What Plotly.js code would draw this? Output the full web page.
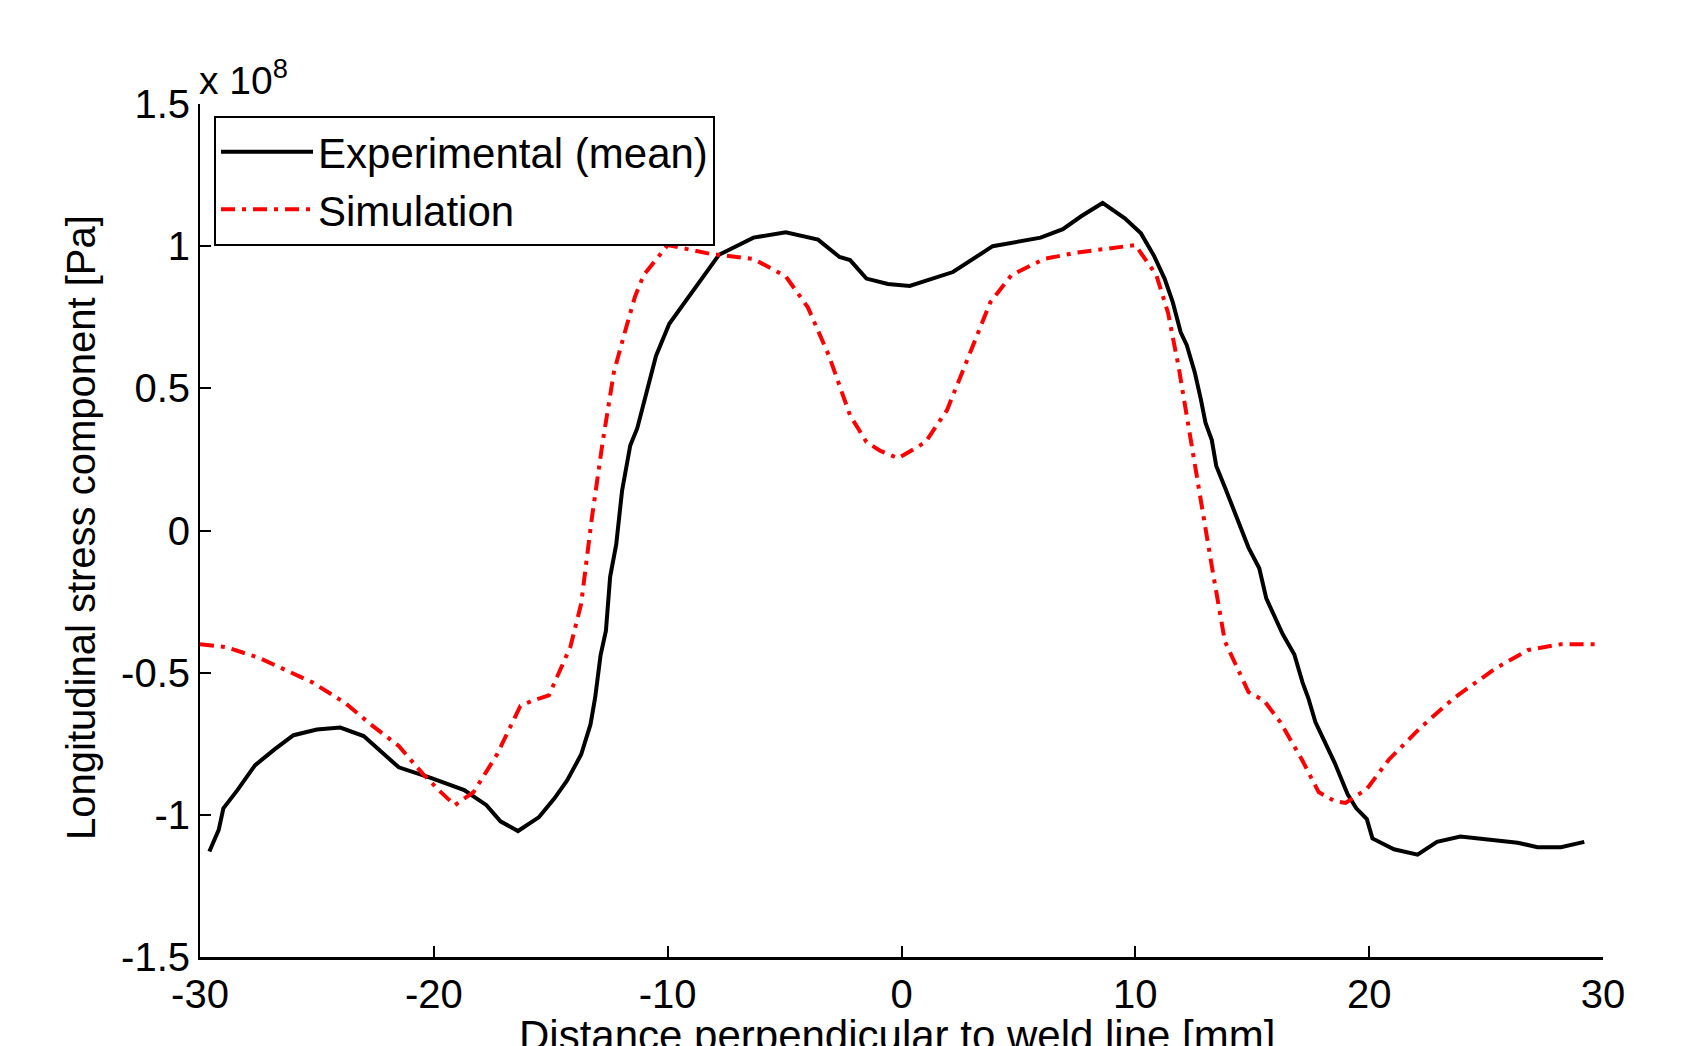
<!DOCTYPE html>
<html>
<head>
<meta charset="utf-8">
<script src="https://cdn.plot.ly/plotly-3.0.1.min.js"></script>
<style>html,body{margin:0;padding:0;background:#fff;}#chart{width:1688px;height:1046px;}</style>
</head>
<body>
<div id="chart"></div>
<script>
// Distance perpendicular to weld line [mm]
const expX = [-29.6,-29.2,-29.0,-28.4,-27.65,-26.8,-26.0,-25.0,-24.0,-23.0,-21.5,-20.1,-18.7,-17.75,-17.15,-16.4,-15.5,-14.85,-14.3,-13.7,-13.3,-13.1,-12.87,-12.64,-12.46,-12.2,-11.95,-11.6,-11.3,-10.85,-10.5,-9.93,-9.1,-7.8,-6.33,-4.95,-3.57,-2.65,-2.2,-1.5,-0.58,0.35,2.2,3.9,5.95,6.9,7.7,8.6,9.55,10.24,10.8,11.25,11.6,11.94,12.2,12.54,12.8,13.0,13.27,13.46,13.83,14.38,14.84,15.3,15.6,16.3,16.8,17.15,17.4,17.7,18.07,18.53,19.08,19.45,19.9,20.14,21.06,22.07,22.9,23.9,26.35,27.2,28.2,29.2];
// Longitudinal stress, experimental mean [x 1e8 Pa]
const expY = [-1.129,-1.053,-0.977,-0.913,-0.826,-0.769,-0.72,-0.70,-0.693,-0.723,-0.833,-0.871,-0.913,-0.966,-1.023,-1.057,-1.008,-0.943,-0.879,-0.788,-0.682,-0.587,-0.439,-0.352,-0.163,-0.049,0.14,0.299,0.36,0.508,0.614,0.727,0.822,0.97,1.03,1.049,1.023,0.962,0.951,0.886,0.867,0.86,0.909,1.0,1.03,1.06,1.106,1.152,1.098,1.045,0.966,0.886,0.803,0.697,0.652,0.557,0.462,0.379,0.318,0.227,0.152,0.034,-0.06,-0.133,-0.239,-0.364,-0.436,-0.534,-0.59,-0.674,-0.742,-0.818,-0.928,-0.977,-1.015,-1.083,-1.121,-1.14,-1.095,-1.076,-1.098,-1.114,-1.114,-1.095];
// Simulation
const simX = [-30,-28.9,-27.5,-25.2,-23.8,-22.7,-21.5,-20.47,-19.7,-19.1,-18.3,-17.3,-16.3,-15.77,-15.08,-14.16,-13.7,-13.24,-12.78,-12.3,-11.86,-11.4,-11.03,-10.0,-8.18,-6.33,-4.95,-4.0,-3.1,-2.2,-1.5,-0.9,-0.14,1.03,1.95,2.87,3.8,4.7,6.1,7.47,8.86,10.0,10.9,11.4,11.85,12.3,12.77,13.23,13.83,14.38,14.84,15.5,16.2,17.15,17.84,18.5,18.99,19.9,20.83,22.2,23.6,25.4,26.8,28.2,29.8];
const simY = [-0.40,-0.41,-0.447,-0.534,-0.606,-0.682,-0.758,-0.856,-0.92,-0.966,-0.92,-0.788,-0.617,-0.598,-0.58,-0.409,-0.258,0.045,0.311,0.557,0.689,0.822,0.898,1.004,0.973,0.955,0.894,0.784,0.614,0.405,0.311,0.28,0.254,0.311,0.424,0.614,0.803,0.898,0.955,0.977,0.992,1.004,0.898,0.765,0.576,0.348,0.121,-0.106,-0.39,-0.485,-0.568,-0.598,-0.674,-0.81,-0.92,-0.951,-0.958,-0.909,-0.807,-0.693,-0.591,-0.485,-0.420,-0.40,-0.40];

const xTicks = [-30,-20,-10,0,10,20,30];
const xTickText = ['-30','-20','-10','0','10','20','30'];
const yTicks = [-1.5,-1,-0.5,0,0.5,1,1.5];
const yTickText = ['-1.5','-1','-0.5','0','0.5','1','1.5'];

const xTitle = 'Distance perpendicular to weld line [mm]';
const yTitle = 'Longitudinal stress component [Pa]';

const FONT = '"Liberation Sans", Arial, sans-serif';

const traces = [
  {x: expX, y: expY, mode: 'lines', name: 'Experimental (mean)',
   line: {color: '#000000', width: 4}},
  {x: simX, y: simY, mode: 'lines', name: 'Simulation',
   line: {color: '#ff0000', width: 4, dash: '14px,7px,4px,7px'}}
];

const layout = {
  width: 1688, height: 1046,
  paper_bgcolor: '#ffffff', plot_bgcolor: '#ffffff',
  margin: {l: 200, r: 85, t: 104, b: 89},
  font: {family: FONT, color: '#000000', size: 40},
  showlegend: true,
  legend: {x: 0.01, y: 0.986, xanchor: 'left', yanchor: 'top',
           bgcolor: '#ffffff', bordercolor: '#000000', borderwidth: 2,
           font: {family: FONT, size: 42, color: '#000000'},
           itemwidth: 92, tracegroupgap: 0},
  xaxis: {range: [-30, 30], tickvals: xTicks, ticktext: xTickText, ticks: 'inside', ticklen: 11, tickwidth: 2,
          tickcolor: '#000', showline: true, linecolor: '#000', linewidth: 3,
          showgrid: false, zeroline: false, mirror: false,
          tickfont: {family: FONT, size: 40}},
  yaxis: {range: [-1.5, 1.5], tickvals: yTicks, ticktext: yTickText, ticks: 'inside', ticklen: 11, tickwidth: 2,
          tickcolor: '#000', showline: true, linecolor: '#000', linewidth: 2,
          showgrid: false, zeroline: false, mirror: false,
          tickfont: {family: FONT, size: 40}},
  annotations: [
    {xref: 'paper', yref: 'paper', x: -0.002, y: 1.0, xanchor: 'left', yanchor: 'bottom',
     text: 'x 10<sup>8</sup>', showarrow: false, font: {family: FONT, size: 39}},
    {xref: 'paper', yref: 'paper', x: 0.497, y: -0.062, xanchor: 'center', yanchor: 'top',
     text: xTitle, showarrow: false, font: {family: FONT, size: 42}},
    {xref: 'paper', yref: 'paper', x: -0.0848, y: 0.503, xanchor: 'center', yanchor: 'middle',
     text: yTitle, textangle: -90, showarrow: false, font: {family: FONT, size: 40}}
  ]
};

Plotly.newPlot('chart', traces, layout, {displayModeBar: false, staticPlot: true});
</script>
</body>
</html>
